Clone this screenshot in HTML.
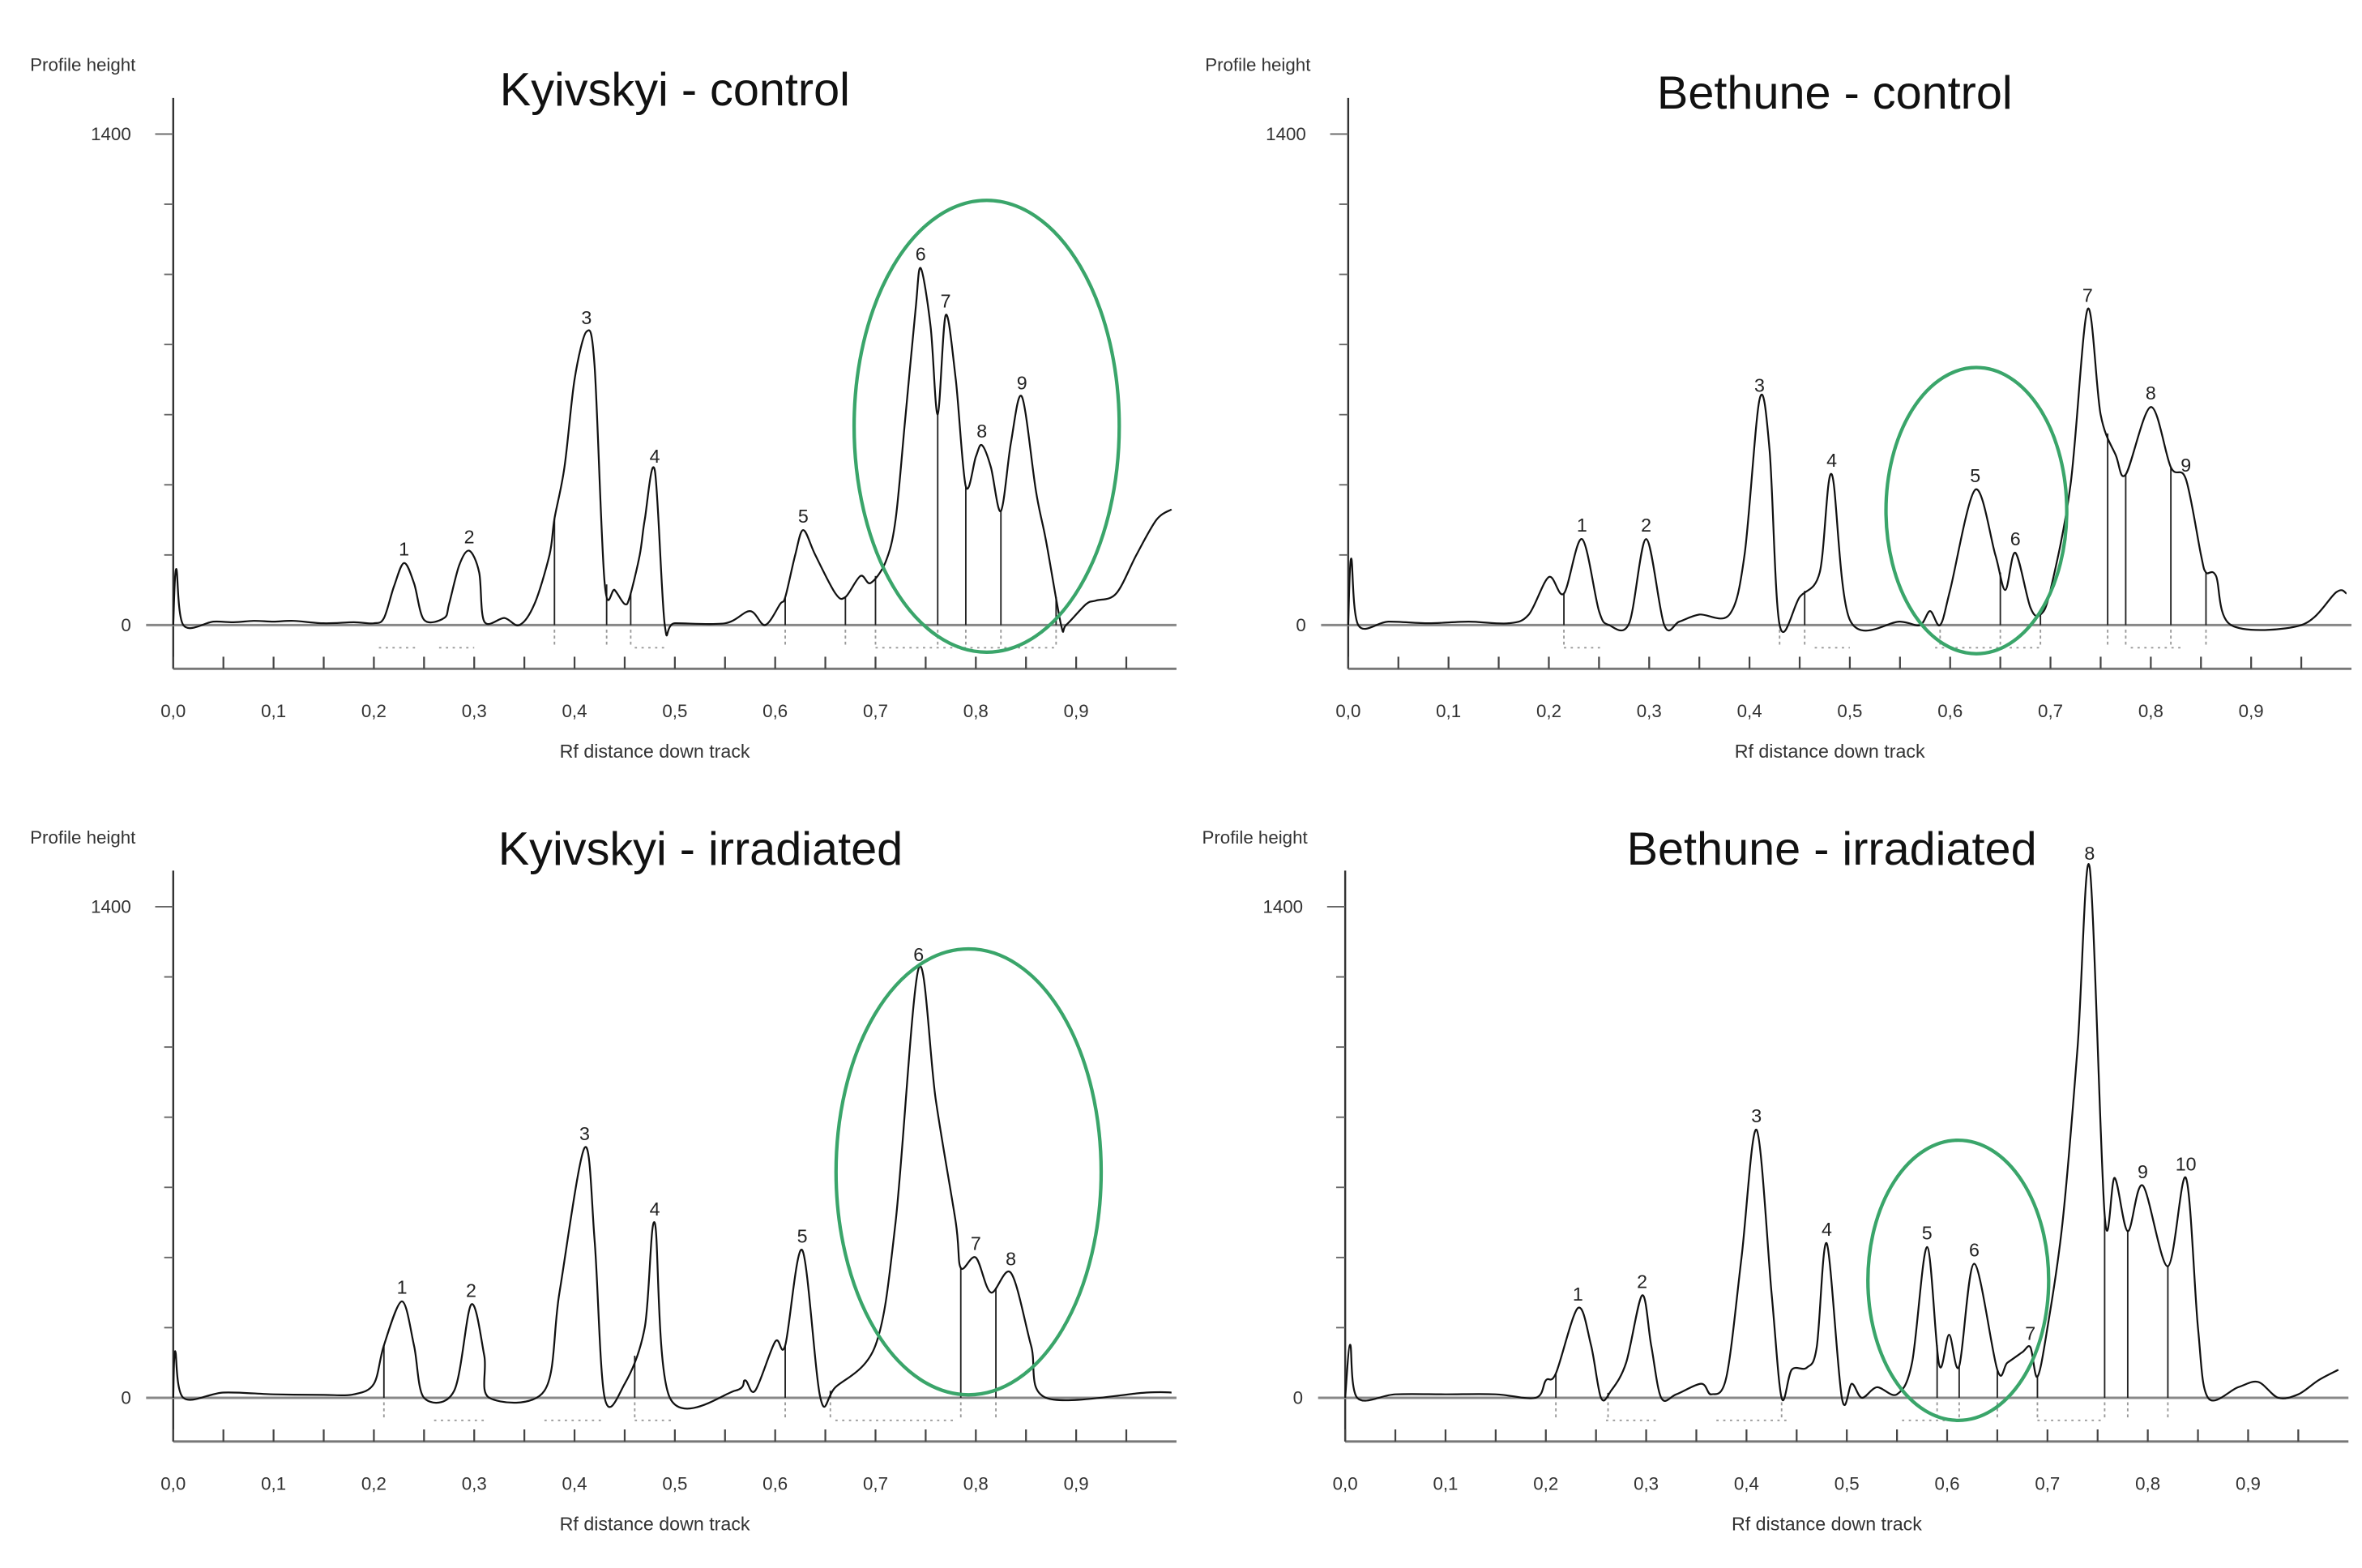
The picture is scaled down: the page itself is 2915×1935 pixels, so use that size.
<!DOCTYPE html>
<html><head><meta charset="utf-8"><style>
html,body{margin:0;padding:0;background:#fff;}
svg{display:block;}
text{font-family:"Liberation Sans",sans-serif;}
</style></head><body>
<svg id="chart" width="2915" height="1935" viewBox="0 0 1568 1041" preserveAspectRatio="none" xmlns="http://www.w3.org/2000/svg"></svg>
<script>
// ---- data arrays (Rf and profile height) ----
const klcRf = [0,0.003,0.01,0.04,0.06,0.08,0.1,0.12,0.15,0.18,0.2,0.21,0.22,0.23,0.24,0.25,0.27,0.275,0.285,0.295,0.305,0.31,0.33,0.345,0.36,0.375,0.38,0.39,0.4,0.412,0.42,0.43,0.44,0.45,0.455,0.465,0.47,0.48,0.49,0.5,0.55,0.575,0.59,0.605,0.61,0.62,0.628,0.64,0.66,0.67,0.685,0.695,0.71,0.72,0.73,0.74,0.745,0.755,0.762,0.77,0.78,0.79,0.8,0.806,0.815,0.825,0.835,0.846,0.86,0.87,0.885,0.89,0.91,0.92,0.94,0.96,0.98,0.995];
const klcH  = [0,160,0,10,8,12,10,12,5,8,5,20,110,177,120,15,20,60,170,212,150,10,20,0,60,200,304,450,700,837,740,120,100,60,80,200,300,441,0,5,5,40,0,60,80,200,271,200,90,80,140,120,180,300,600,900,1018,850,601,884,700,396,480,513,450,325,520,651,380,240,0,0,60,70,90,200,300,330];
const bcRf = [0,0.003,0.01,0.04,0.08,0.12,0.16,0.18,0.2,0.215,0.233,0.25,0.26,0.28,0.297,0.315,0.33,0.35,0.38,0.395,0.41,0.42,0.43,0.45,0.47,0.482,0.5,0.55,0.57,0.58,0.59,0.6,0.625,0.645,0.655,0.665,0.68,0.69,0.7,0.72,0.737,0.75,0.765,0.775,0.8,0.82,0.835,0.85,0.855,0.865,0.88,0.95,0.985,0.995];
const bcH  = [0,190,0,10,5,10,5,30,137,90,245,40,0,5,245,0,10,30,30,200,644,500,0,80,150,430,15,10,0,40,0,100,386,200,100,206,50,30,100,400,900,600,485,430,622,450,416,200,150,140,0,0,94,90];
const kirRf = [0,0.002,0.01,0.05,0.1,0.15,0.18,0.2,0.21,0.228,0.24,0.25,0.28,0.297,0.31,0.315,0.37,0.385,0.41,0.42,0.43,0.45,0.47,0.48,0.495,0.56,0.57,0.58,0.6,0.61,0.627,0.645,0.66,0.7,0.72,0.743,0.76,0.78,0.785,0.8,0.815,0.835,0.855,0.87,0.97,0.995];
const kirH  = [0,133,0,15,10,8,10,40,150,275,150,0,20,266,120,0,20,300,713,450,0,40,200,498,0,20,50,20,160,150,421,0,30,150,500,1224,850,500,370,400,300,356,150,0,15,15];
const birRf = [0,0.005,0.012,0.05,0.1,0.15,0.19,0.2,0.21,0.232,0.245,0.255,0.265,0.28,0.296,0.305,0.315,0.33,0.355,0.365,0.38,0.395,0.41,0.425,0.435,0.445,0.46,0.47,0.48,0.495,0.505,0.515,0.53,0.55,0.565,0.58,0.592,0.602,0.612,0.627,0.65,0.66,0.675,0.683,0.69,0.7,0.715,0.73,0.742,0.757,0.767,0.78,0.795,0.82,0.838,0.85,0.86,0.89,0.91,0.93,0.95,0.97,0.99];
const birH  = [0,151,0,10,10,10,0,50,70,256,150,0,20,100,292,150,0,10,40,10,60,400,764,300,0,80,86,144,440,0,40,0,30,10,100,430,94,180,90,382,80,100,130,144,60,200,500,1000,1513,519,627,475,605,375,627,200,0,30,45,0,10,50,80];
// peak labels
const klcLabels = ["1","2","3","4","5","6","7","8","9"];
const klcLabRf = [0.23,0.295,0.412,0.48,0.628,0.745,0.77,0.806,0.846];
const klcLabH = [177,212,837,441,271,1018,884,513,651];
const bcLabels = ["1","2","3","4","5","6","7","8","9"];
const bcLabRf = [0.233,0.297,0.41,0.482,0.625,0.665,0.737,0.8,0.835];
const bcLabH = [245,245,644,430,386,206,900,622,416];
const kirLabels = ["1","2","3","4","5","6","7","8"];
const kirLabRf = [0.228,0.297,0.41,0.48,0.627,0.743,0.8,0.835];
const kirLabH = [275,266,713,498,421,1224,400,356];
const birLabels = ["1","2","3","4","5","6","7","8","9","10"];
const birLabRf = [0.232,0.296,0.41,0.48,0.58,0.627,0.683,0.742,0.795,0.838];
const birLabH = [256,292,764,440,430,382,144,1513,605,627];
// peak boundary drop-lines (Rf)
const klcDrops = [0.38,0.432,0.456,0.61,0.67,0.7,0.762,0.79,0.825,0.88];
const bcDrops = [0.215,0.43,0.455,0.59,0.65,0.69,0.757,0.775,0.82,0.855];
const kirDrops = [0.21,0.46,0.61,0.655,0.785,0.82];
const birDrops = [0.21,0.262,0.435,0.59,0.612,0.65,0.69,0.757,0.78,0.82];
// dotted integration ranges below baseline (Rf start/end)
const klcDotStart = [0.205,0.265,0.46,0.7];
const klcDotEnd = [0.245,0.3,0.49,0.88];
const bcDotStart = [0.215,0.465,0.585,0.78];
const bcDotEnd = [0.255,0.5,0.69,0.83];
const kirDotStart = [0.26,0.37,0.46,0.66];
const kirDotEnd = [0.31,0.43,0.5,0.78];
const birDotStart = [0.26,0.37,0.555,0.69];
const birDotEnd = [0.31,0.44,0.6,0.757];
const xTickLabels = ["0,0","0,1","0,2","0,3","0,4","0,5","0,6","0,7","0,8","0,9"];
const yTickValues = [0,200,400,600,800,1000,1200,1400];

const panels = [
 {name:"kyivskyi-control",title:"Kyivskyi - control",x0:115,base:415,tx:448,ty:60,rf:klcRf,h:klcH,lab:klcLabels,labRf:klcLabRf,labH:klcLabH,drops:klcDrops,ds:klcDotStart,de:klcDotEnd,ell:[655,283,88,150]},
 {name:"bethune-control",title:"Bethune - control",x0:895,base:415,tx:1218,ty:62,rf:bcRf,h:bcH,lab:bcLabels,labRf:bcLabRf,labH:bcLabH,drops:bcDrops,ds:bcDotStart,de:bcDotEnd,ell:[1312,339,60,95]},
 {name:"kyivskyi-irradiated",title:"Kyivskyi - irradiated",x0:115,base:928,tx:465,ty:564,rf:kirRf,h:kirH,lab:kirLabels,labRf:kirLabRf,labH:kirLabH,drops:kirDrops,ds:kirDotStart,de:kirDotEnd,ell:[643,778,88,148]},
 {name:"bethune-irradiated",title:"Bethune - irradiated",x0:893,base:928,tx:1216,ty:564,rf:birRf,h:birH,lab:birLabels,labRf:birLabRf,labH:birLabH,drops:birDrops,ds:birDotStart,de:birDotEnd,ell:[1300,850,60,93]}
];
const NS="http://www.w3.org/2000/svg";
const svg=document.getElementById('chart');
function mk(tag,attrs,parent){const e=document.createElementNS(NS,tag);for(const k in attrs)e.setAttribute(k,attrs[k]);(parent||svg).appendChild(e);return e;}
const XS=666, YS=326/1400;
function interp(rf,h,x){for(let i=1;i<rf.length;i++){if(x<=rf[i]){const t=(x-rf[i-1])/(rf[i]-rf[i-1]);return h[i-1]+t*(h[i]-h[i-1]);}}return h[h.length-1];}
function smoothPath(P){
 let d='M'+P[0][0].toFixed(1)+','+P[0][1].toFixed(1);
 const k=0.16;
 for(let i=0;i<P.length-1;i++){
  const p0=P[Math.max(0,i-1)],p1=P[i],p2=P[i+1],p3=P[Math.min(P.length-1,i+2)];
  const c1=[p1[0]+(p2[0]-p0[0])*k,p1[1]+(p2[1]-p0[1])*k];
  const c2=[p2[0]-(p3[0]-p1[0])*k,p2[1]-(p3[1]-p1[1])*k];
  d+=' C'+c1[0].toFixed(1)+','+c1[1].toFixed(1)+' '+c2[0].toFixed(1)+','+c2[1].toFixed(1)+' '+p2[0].toFixed(1)+','+p2[1].toFixed(1);
 }
 return d;
}
panels.forEach(p=>{
 const g=mk('g',{});
 
 
 const sx=r=>p.x0+r*XS, sy=v=>p.base-v*YS;
 const t=mk('text',{x:p.tx,y:p.ty+10,'text-anchor':'middle','font-size':31,fill:'#111'},g);t.textContent=p.title;
 
 
 const yl=mk('text',{x:p.x0-95,y:p.base-368,'font-size':12,fill:'#333'},g);yl.textContent="Profile height";
 
 
 const lowY=p.base+29;
 const ya=mk('line',{x1:p.x0,y1:p.base-350,x2:p.x0,y2:lowY,stroke:'#333','stroke-width':1.3},g);
 
 
 yTickValues.forEach(v=>{
  const tk=mk('line',{x1:p.x0-(v===1400?12:6),y1:sy(v),x2:p.x0,y2:sy(v),stroke:'#666','stroke-width':1},g);
  
  
 });
 const l1=mk('text',{x:p.x0-28,y:sy(1400)+4,'text-anchor':'end','font-size':12,fill:'#333'},g);l1.textContent="1400";
 
 
 const l0=mk('text',{x:p.x0-28,y:sy(0)+4,'text-anchor':'end','font-size':12,fill:'#333'},g);l0.textContent="0";
 
 
 const bl=mk('line',{x1:p.x0-18,y1:p.base,x2:sx(1.0),y2:p.base,stroke:'#888','stroke-width':1.6},g);
 
 
 const xa=mk('line',{x1:p.x0,y1:lowY,x2:sx(1.0),y2:lowY,stroke:'#777','stroke-width':1.6},g);
 
 
 for(let i=0;i<20;i++){
  const r=i*0.05;
  const tk=mk('line',{x1:sx(r),y1:lowY,x2:sx(r),y2:lowY-8,stroke:'#444','stroke-width':1.2},g);
  
  
 }
 xTickLabels.forEach((s,i)=>{
  const tl=mk('text',{x:sx(i*0.1),y:lowY+32,'text-anchor':'middle','font-size':12,fill:'#333'},g);tl.textContent=s;
  
  
 });
 const xt=mk('text',{x:sx(0.48),y:lowY+59,'text-anchor':'middle','font-size':12.5,fill:'#333'},g);xt.textContent="Rf distance down track";
 
 
 p.drops.forEach(r=>{
  const d=mk('line',{x1:sx(r),y1:p.base+3,x2:sx(r),y2:p.base+14,stroke:'#999','stroke-width':1,'stroke-dasharray':'2,2'},g);
  
  
 });
 p.ds.forEach((s,i)=>{
  const dd=mk('line',{x1:sx(s),y1:p.base+15,x2:sx(p.de[i]),y2:p.base+15,stroke:'#999','stroke-width':1,'stroke-dasharray':'1.5,3'},g);
  
  
 });
 p.drops.forEach(r=>{
  const dl=mk('line',{x1:sx(r),y1:p.base,x2:sx(r),y2:sy(interp(p.rf,p.h,r)),stroke:'#222','stroke-width':1},g);
  
  
 });
 const P=p.rf.map((r,i)=>[sx(r),sy(p.h[i])]);
 const pl=mk('path',{d:smoothPath(P),fill:'none',stroke:'#111','stroke-width':1.2,'stroke-linejoin':'round'},g);
 
 
 p.lab.forEach((s,i)=>{
  const lt=mk('text',{x:sx(p.labRf[i]),y:sy(p.labH[i])-5,'text-anchor':'middle','font-size':12.5,fill:'#222'},g);lt.textContent=s;
  
  
 });
 const el=mk('ellipse',{cx:p.ell[0],cy:p.ell[1],rx:p.ell[2],ry:p.ell[3],fill:'none',stroke:'#3aa56a','stroke-width':2.3},g);
 
 
});
</script>
</body></html>
